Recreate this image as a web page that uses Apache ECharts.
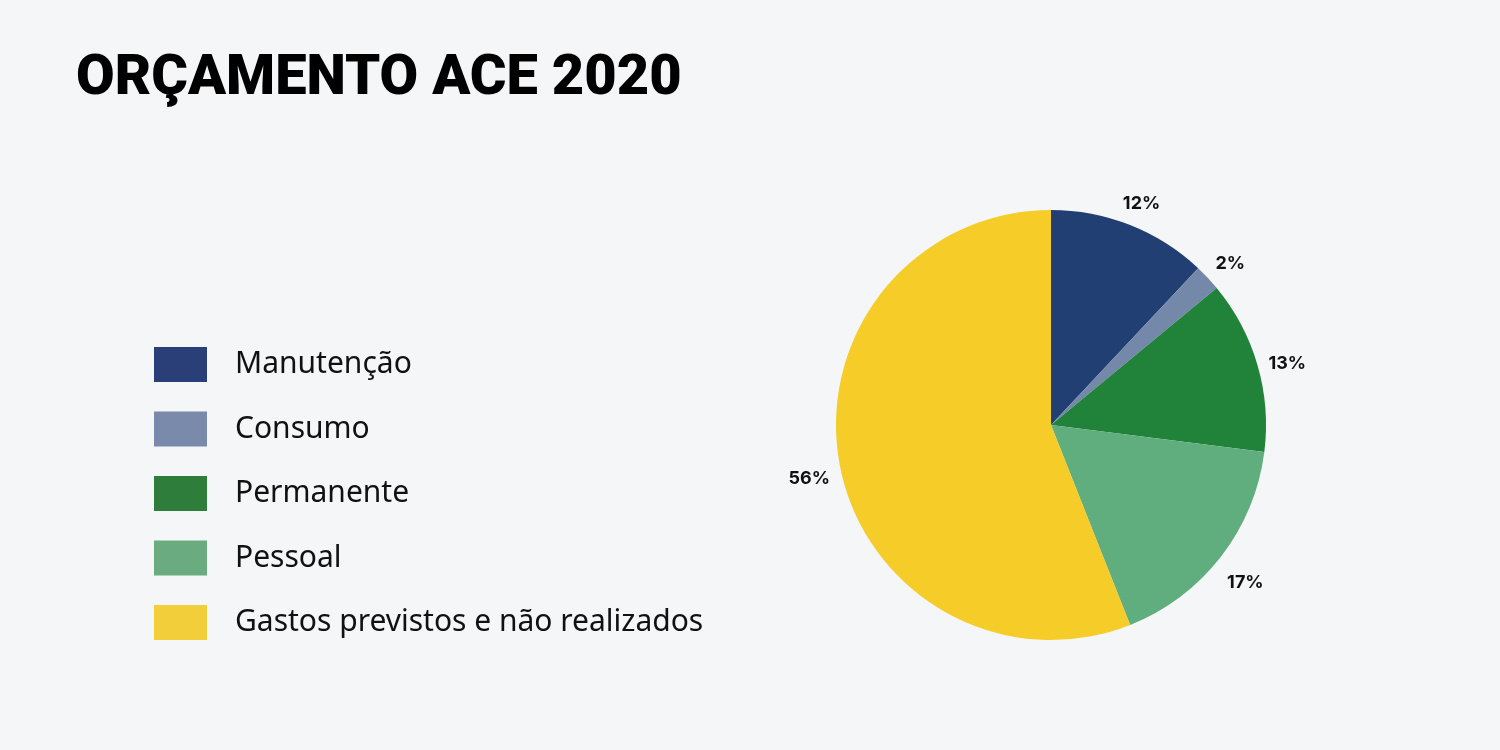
<!DOCTYPE html>
<html>
<head>
<meta charset="utf-8">
<script src="https://cdn.jsdelivr.net/npm/echarts@6/dist/echarts.min.js"></script>
<style>
html,body{margin:0;padding:0;background:#f5f6f8;}
#chart{width:1500px;height:750px;}
</style>
</head>
<body>
<div id="chart"></div>
<script>
const titleText = "ORÇAMENTO ACE 2020";
const categories = ["Manutenção", "Consumo", "Permanente", "Pessoal", "Gastos previstos e não realizados"];
const values = [12, 2, 13, 17, 56];
const sliceColors = ["#223f73", "#7489aa", "#21823a", "#60ae7e", "#f5cc28"];
const legendColors = ["#2a3f78", "#7a8aab", "#2e7d3a", "#6aab80", "#f2ce3a"];

const chart = echarts.init(document.getElementById('chart'), null, {renderer: 'canvas'});
const pieData = categories.map((c, i) => ({name: c, value: values[i], itemStyle: {color: sliceColors[i]}}));
const labelData = categories.map((c, i) => ({name: c, value: values[i]}));

chart.setOption({
  backgroundColor: '#f5f6f8',
  animation: false,
  title: {
    text: titleText,
    left: 71,
    top: 47,
    textStyle: {fontFamily: 'Roboto', fontWeight: 900, fontSize: 56, color: '#000'}
  },
  legend: {
    orient: 'vertical',
    left: 154,
    top: 347,
    padding: 0,
    itemWidth: 53,
    itemHeight: 35,
    itemGap: 29.5,
    icon: 'rect',
    selectedMode: false,
    data: categories.map((c, i) => ({name: c, itemStyle: {color: legendColors[i]}})),
    textStyle: {fontFamily: 'Noto Sans', fontSize: 30, color: '#111', padding: [5, 0, 0, 23]}
  },
  series: [
    {
      type: 'pie',
      center: [1051, 425],
      radius: [0, 215],
      startAngle: 90,
      clockwise: true,
      silent: true,
      label: {show: false},
      labelLine: {show: false},
      data: pieData
    },
    {
      type: 'pie',
      center: [1051, 432],
      radius: [225, 261],
      startAngle: 90,
      clockwise: true,
      silent: true,
      itemStyle: {color: 'rgba(0,0,0,0)'},
      label: {
        show: true,
        position: 'inside',
        formatter: '{c}%',
        fontFamily: 'Inter',
        fontWeight: 700,
        fontSize: 18,
        color: '#111'
      },
      labelLine: {show: false},
      data: labelData
    }
  ]
});
</script>
</body>
</html>
